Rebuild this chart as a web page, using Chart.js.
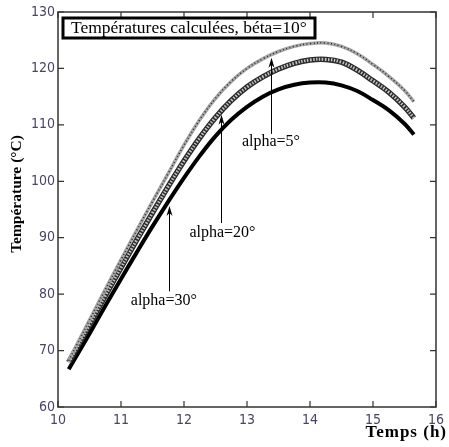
<!DOCTYPE html>
<html>
<head>
<meta charset="utf-8">
<script src="https://cdn.jsdelivr.net/npm/chart.js@4"></script>
<style>
  html, body { margin: 0; padding: 0; background: #fff; }
  #c { display: block; }
</style>
</head>
<body>
<canvas id="c" width="449" height="447"></canvas>
<script>
// ------------------------------------------------------------
// DATA
// ------------------------------------------------------------
const heures = [10.17, 10.5, 10.75, 11.0, 11.25, 11.5, 11.75, 12.0, 12.25, 12.5, 12.75,
                13.0, 13.25, 13.5, 13.75, 14.0, 14.25, 14.5, 14.75, 15.0, 15.25, 15.5, 15.65];

const tempAlpha5  = [68.2, 75.4, 80.8, 86.1, 91.3, 96.4, 101.4, 106.4, 110.9, 114.7, 117.7,
                     120.0, 121.7, 123.0, 123.9, 124.4, 124.5, 123.9, 122.6, 120.7, 118.6, 116.1, 114.1];
const tempAlpha20 = [67.9, 74.6, 79.7, 84.7, 89.6, 94.4, 99.1, 103.6, 107.7, 111.3, 114.3,
                     116.7, 118.5, 119.9, 120.9, 121.5, 121.6, 121.1, 119.7, 117.8, 115.8, 113.2, 111.2];
const tempAlpha30 = [66.7, 73.0, 77.9, 82.7, 87.4, 92.0, 96.4, 100.6, 104.5, 108.0, 110.9,
                     113.2, 115.0, 116.3, 117.1, 117.5, 117.5, 117.0, 116.0, 114.4, 112.6, 110.2, 108.3];

const xTicks = [10, 11, 12, 13, 14, 15, 16];
const yTicks = [60, 70, 80, 90, 100, 110, 120, 130];

// annotations: label text, arrow x (h), arrow tip (°C), line foot (°C), label x (h), label y (°C)
const annotLabels = ['alpha=5°', 'alpha=20°', 'alpha=30°'];
const annotX      = [13.38, 12.59, 11.76];
const annotTip    = [121.9, 111.8, 95.6];
const annotFoot   = [108.4, 92.6, 80.5];
const annotTextX  = [13.38, 12.61, 11.68];
const annotTextY  = [107.0, 90.8, 78.8];

const titreBoite = 'Températures calculées, béta=10°';
const titreX = 'Temps (h)';
const titreY = 'Température (°C)';

// ------------------------------------------------------------
// HELPERS
// ------------------------------------------------------------
function toPoints(ys) {
    return heures.map((h, i) => ({ x: h, y: ys[i] }));
}

const SERIF = "'Liberation Serif', 'Times New Roman', serif";
const TICKFONT = "'Liberation Sans Narrow', 'DejaVu Sans Condensed', 'Liberation Sans', sans-serif";
const TICKCOLOR = '#4a4468';

// frame, inward ticks, titles, box, arrows
const decorPlugin = {
    id: 'decor',
    afterDraw(chart) {
        const ctx = chart.ctx;
        const a = chart.chartArea;
        const sx = chart.scales.x;
        const sy = chart.scales.y;
        ctx.save();

        // frame
        ctx.strokeStyle = '#333';
        ctx.lineWidth = 1.5;
        ctx.strokeRect(a.left, a.top, a.right - a.left, a.bottom - a.top);

        // inward ticks on all four sides
        ctx.lineWidth = 1.2;
        ctx.beginPath();
        xTicks.forEach(v => {
            const px = sx.getPixelForValue(v);
            ctx.moveTo(px, a.bottom); ctx.lineTo(px, a.bottom - 6);
            ctx.moveTo(px, a.top); ctx.lineTo(px, a.top + 6);
        });
        yTicks.forEach(v => {
            const py = sy.getPixelForValue(v);
            ctx.moveTo(a.left, py); ctx.lineTo(a.left + 6, py);
            ctx.moveTo(a.right, py); ctx.lineTo(a.right - 6, py);
        });
        ctx.stroke();

        // title box
        ctx.fillStyle = '#fff';
        ctx.fillRect(63, 18, 252, 20);
        ctx.strokeStyle = '#000';
        ctx.lineWidth = 3;
        ctx.strokeRect(63, 18, 252, 20);
        ctx.fillStyle = '#000';
        ctx.font = '17.5px ' + SERIF;
        ctx.textAlign = 'left';
        ctx.textBaseline = 'middle';
        ctx.fillText(titreBoite, 71, 28.5);

        // annotations with arrows
        ctx.lineWidth = 1;
        ctx.font = '16px ' + SERIF;
        ctx.textAlign = 'center';
        annotLabels.forEach((lab, i) => {
            const px = Math.round(sx.getPixelForValue(annotX[i])) + 0.5;
            const tip = sy.getPixelForValue(annotTip[i]);
            const foot = sy.getPixelForValue(annotFoot[i]);
            ctx.beginPath();
            ctx.moveTo(px, foot);
            ctx.lineTo(px, tip + 4);
            ctx.stroke();
            ctx.beginPath();
            ctx.moveTo(px, tip);
            ctx.lineTo(px - 3, tip + 10);
            ctx.lineTo(px, tip + 7);
            ctx.lineTo(px + 3, tip + 10);
            ctx.closePath();
            ctx.fill();
            ctx.fillText(lab, sx.getPixelForValue(annotTextX[i]), sy.getPixelForValue(annotTextY[i]));
        });

        // axis titles
        ctx.font = 'bold 17px ' + SERIF;
        ctx.textAlign = 'right';
        ctx.textBaseline = 'middle';
        ctx.letterSpacing = '1px';
        ctx.fillText(titreX, 447, 433);
        ctx.letterSpacing = '0px';

        ctx.translate(17, 194);
        ctx.rotate(-Math.PI / 2);
        ctx.font = 'bold 15.5px ' + SERIF;
        ctx.textAlign = 'center';
        ctx.fillText(titreY, 0, 0);

        ctx.restore();
    }
};

// ------------------------------------------------------------
// CHART  (lower index is painted on top)
// ------------------------------------------------------------
const ctx = document.getElementById('c');

new Chart(ctx.getContext('2d'), {
    type: 'line',
    data: {
        datasets: [
            // alpha=5° : grey band with small dark crosses
            { label: 'alpha=5° marks', data: toPoints(tempAlpha5), borderColor: '#2e2e2e', borderWidth: 1.6, borderDash: [1, 2.5] },
            { label: 'alpha=5°', data: toPoints(tempAlpha5), borderColor: '#a6a6a6', borderWidth: 3.5 },
            // alpha=20° : striped band of square markers
            { label: 'alpha=20° marks', data: toPoints(tempAlpha20), borderColor: '#c4c4c4', borderWidth: 3, borderDash: [1.5, 1.5] },
            { label: 'alpha=20°', data: toPoints(tempAlpha20), borderColor: '#2a2a2a', borderWidth: 5.5 },
            // alpha=30° : solid black
            { label: 'alpha=30°', data: toPoints(tempAlpha30), borderColor: '#000', borderWidth: 4 }
        ]
    },
    options: {
        responsive: false,
        animation: false,
        devicePixelRatio: 1,
        layout: { padding: { top: 12, right: 9, left: 0, bottom: 0 } },
        elements: {
            point: { radius: 0 },
            line: { tension: 0.4, fill: false }
        },
        plugins: {
            legend: { display: false },
            tooltip: { enabled: false }
        },
        scales: {
            x: {
                type: 'linear',
                min: 10,
                max: 16,
                afterBuildTicks: s => { s.ticks = xTicks.map(v => ({ value: v })); },
                afterFit: s => { s.height = 40; },
                grid: { display: false, drawTicks: false },
                border: { display: false },
                ticks: { color: TICKCOLOR, padding: 5, font: { family: TICKFONT, size: 14 } }
            },
            y: {
                min: 60,
                max: 130,
                afterBuildTicks: s => { s.ticks = yTicks.map(v => ({ value: v })); },
                afterFit: s => { s.width = 58; },
                grid: { display: false, drawTicks: false },
                border: { display: false },
                ticks: { color: TICKCOLOR, padding: 3, font: { family: TICKFONT, size: 14 } }
            }
        }
    },
    plugins: [decorPlugin]
});
</script>
</body>
</html>
